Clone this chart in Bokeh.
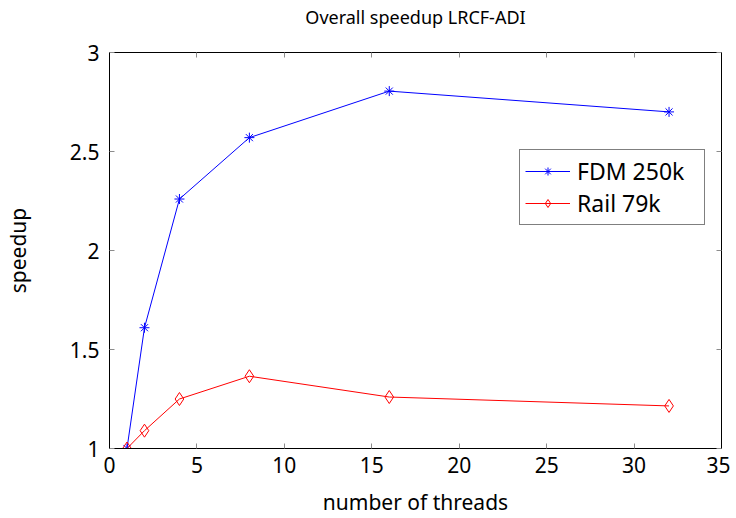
from bokeh.plotting import figure
from bokeh.models import LinearAxis, FixedTicker, Range1d, Legend, LegendItem
from bokeh.embed import file_html
from bokeh.resources import INLINE

threads = [1, 2, 4, 8, 16, 32]
fdm_250k = [1.0, 1.61, 2.26, 2.57, 2.805, 2.70]
rail_79k = [1.0, 1.09, 1.25, 1.365, 1.26, 1.215]

x_ticks = [0, 5, 10, 15, 20, 25, 30, 35]
y_ticks = [1, 1.5, 2, 2.5, 3]
y_labels = {1: "1", 1.5: "1.5", 2: "2", 2.5: "2.5", 3: "3"}

FONT = "Noto Sans"

p = figure(width=730, height=518, output_backend="svg", toolbar_location=None,
           x_range=Range1d(0, 35), y_range=Range1d(1, 3),
           title="Overall speedup LRCF-ADI",
           min_border_left=109, min_border_right=9, min_border_top=0, min_border_bottom=68)
p.title.align = "center"
p.title.text_font = FONT
p.title.text_font_size = "18px"
p.title.text_font_style = "normal"
p.title.text_color = "black"
p.title.standoff = 5
p.grid.visible = False
p.outline_line_color = "black"
p.outline_line_width = 1
p.background_fill_color = "white"
p.border_fill_color = "white"

def style(ax):
    ax.major_tick_in = 5
    ax.major_tick_out = 0
    ax.minor_tick_line_color = None
    ax.major_tick_line_color = "#8c8c8c"
    ax.axis_line_color = "black"
    ax.major_label_text_font = FONT
    ax.major_label_text_font_size = "21px"
    ax.major_label_text_color = "black"
    ax.axis_label_text_font = FONT
    ax.axis_label_text_font_size = "21px"
    ax.axis_label_text_font_style = "normal"
    ax.axis_label_text_color = "black"

p.xaxis.ticker = FixedTicker(ticks=x_ticks)
p.yaxis.ticker = FixedTicker(ticks=y_ticks)
p.yaxis.major_label_overrides = y_labels
p.xaxis.axis_label = "number of threads"
p.yaxis.axis_label = "speedup"
style(p.xaxis[0])
style(p.yaxis[0])
p.xaxis.major_label_standoff = 8
p.yaxis.major_label_standoff = 10
p.xaxis.axis_label_standoff = 12
p.yaxis.axis_label_standoff = 35

# mirrored ticks on top (blank labels reserve the gap under the title)
top = LinearAxis(ticker=FixedTicker(ticks=x_ticks))
style(top)
top.major_label_overrides = {t: " " for t in x_ticks}
top.major_label_text_color = "white"
top.major_label_text_font_size = "13px"
top.major_label_standoff = 0
p.add_layout(top, "above")
right = LinearAxis(ticker=FixedTicker(ticks=y_ticks))
style(right)
right.major_label_text_font_size = "0px"
right.major_label_text_color = None
p.add_layout(right, "right")

l1 = p.line(threads, fdm_250k, line_color="blue", line_width=1)
m1 = p.scatter(threads, fdm_250k, marker="asterisk", size=10, line_color="blue", line_width=1)
l2 = p.line(threads, rail_79k, line_color="red", line_width=1)
m2 = p.scatter(threads, rail_79k, marker="diamond", size=13, line_color="red", fill_color=None, line_width=1)

legend = Legend(items=[LegendItem(label="FDM 250k", renderers=[l1, m1]),
                       LegendItem(label="Rail 79k", renderers=[l2, m2])],
                location=(410, 223))
legend.border_line_color = "black"
legend.border_line_width = 1
legend.label_text_font = FONT
legend.label_text_font_size = "23px"
legend.label_text_color = "black"
legend.glyph_width = 45
legend.label_standoff = 7
legend.label_width = 122
legend.padding = 5
legend.spacing = 0
legend.margin = 0
legend.background_fill_alpha = 1
p.add_layout(legend, "center")

open("out.html", "w").write(file_html(p, INLINE))
